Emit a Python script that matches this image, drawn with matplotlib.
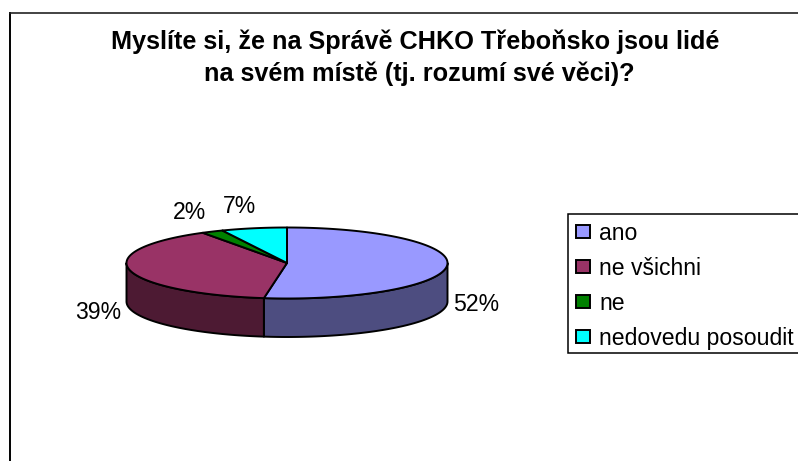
import numpy as np
import matplotlib
matplotlib.use("Agg")
import matplotlib.pyplot as plt
from matplotlib.patches import Polygon, Patch, Rectangle

title_lines = ["Myslíte si, že na Správě CHKO Třeboňsko jsou lidé",
               "na svém místě (tj. rozumí své věci)?"]
categories = ["ano", "ne všichni", "ne", "nedovedu posoudit"]
values = [52.3, 38.9, 2.2, 6.6]
top_colors = ["#9999FF", "#993366", "#008000", "#00FFFF"]
side_colors = ["#4D4D80", "#4D1A33", "#004000", "#008080"]

plt.rcParams["font.family"] = ["Liberation Sans", "DejaVu Sans"]
W, H = 798, 461
fig = plt.figure(figsize=(W / 100, H / 100), dpi=100)
ax = fig.add_axes([0, 0, 1, 1])
ax.set_xlim(0, W)
ax.set_ylim(H, 0)
ax.axis("off")

# chart frame (runs off the right and bottom of the picture)
ax.plot([9.5, 9.5], [H + 5, 13], color="black", lw=1.4)
ax.plot([9.5, W + 5], [13, 13], color="#222222", lw=1.2)

for y, x, line in zip((42, 74), (415, 419), title_lines):
    ax.text(x, y, line, ha="center", va="center", fontsize=18.2, fontweight="bold")

cx, cy, a, b, depth = 287, 263, 160.5, 35.5, 38.5


def pt(theta):
    return cx + a * np.sin(theta), cy - b * np.cos(theta)


edges = 2 * np.pi * np.cumsum([0] + values) / sum(values)

# visible rim: only the front half of the pie
for i in range(len(values)):
    lo = max(edges[i], np.pi / 2)
    hi = min(edges[i + 1], 3 * np.pi / 2)
    if hi <= lo:
        continue
    t = np.linspace(lo, hi, 80)
    x, y = pt(t)
    verts = np.r_[np.c_[x, y], np.c_[x[::-1], y[::-1] + depth]]
    ax.add_patch(Polygon(verts, closed=True, fc=side_colors[i], ec="black", lw=1.4, joinstyle="round"))

# top face
for i in range(len(values)):
    t = np.linspace(edges[i], edges[i + 1], 120)
    x, y = pt(t)
    verts = np.r_[[[cx, cy]], np.c_[x, y]]
    ax.add_patch(Polygon(verts, closed=True, fc=top_colors[i], ec="black", lw=1.4, joinstyle="round"))

label_pos = [(476, 304), (98, 312), (190, 212), (239, 206)]
for v, (x, y) in zip(values, label_pos):
    ax.text(x, y, f"{round(v)}%", ha="center", va="center", fontsize=16.6)

# legend box runs off the right edge of the picture
ax.add_patch(Rectangle((568, 213.5), W + 10 - 568, 139, fc="white", ec="black", lw=1.1))
handles = [Patch(fc=c, ec="black", lw=1.4) for c in top_colors]
leg = ax.legend(handles, categories, loc="upper left", bbox_to_anchor=(568, 213.5),
                bbox_transform=ax.transData, borderaxespad=0, fontsize=16.6,
                frameon=False,
                handlelength=0.62, handleheight=0.52, handletextpad=0.39,
                labelspacing=0.52, borderpad=0.35)

fig.savefig("out.png", dpi=100)
